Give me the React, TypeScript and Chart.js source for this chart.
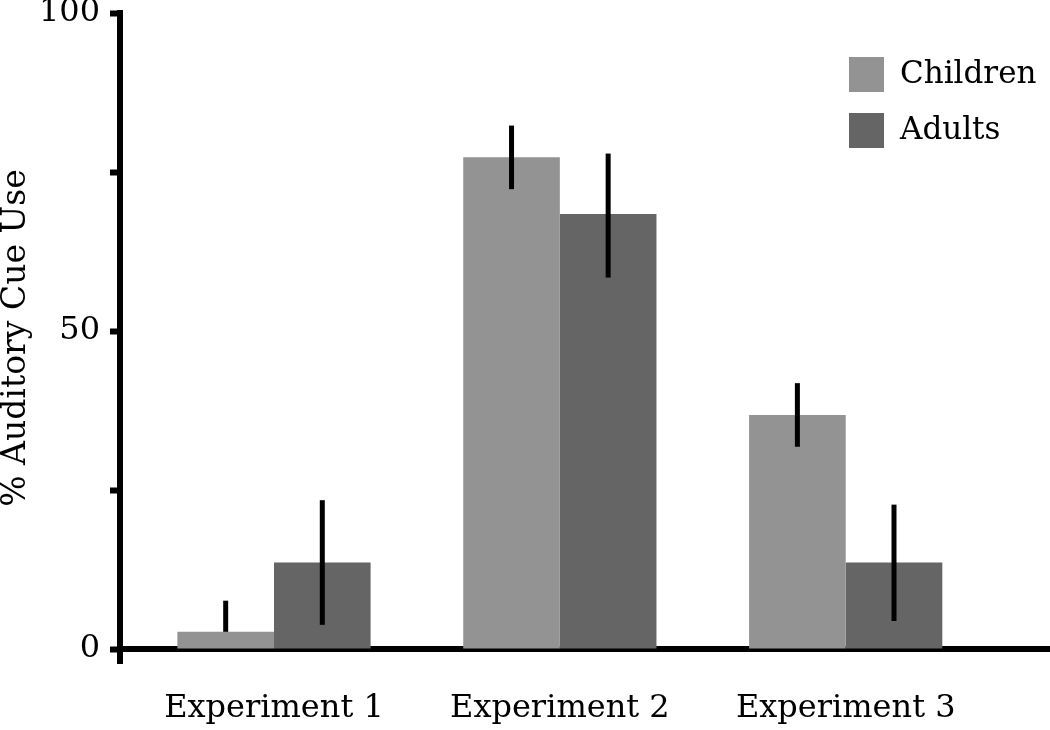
import React, { useEffect, useRef } from "react";
import { Chart, registerables } from "chart.js";

Chart.register(...registerables);

const categories = ["Experiment 1", "Experiment 2", "Experiment 3"];
const seriesNames = ["Children", "Adults"];
const childrenValues = [2.7, 77.3, 36.8];
const adultsValues = [13.6, 68.4, 13.6];
const childrenErrLow = [2.7, 72.3, 31.8];
const childrenErrHigh = [7.6, 82.3, 41.8];
const adultsErrLow = [3.8, 58.4, 4.4];
const adultsErrHigh = [23.4, 77.9, 22.7];
const yTicks = [0, 25, 50, 75, 100];
const yTickLabels = ["0", "", "50", "", "100"];

const FONT = "'DejaVu Serif', serif";
const colors = ["#939393", "#656565"];

const errorBarPlugin = {
  id: "errorBars",
  afterDatasetsDraw(chart: any) {
    const ctx = chart.ctx;
    const yScale = chart.scales.y;
    const lows = [childrenErrLow, adultsErrLow];
    const highs = [childrenErrHigh, adultsErrHigh];
    ctx.save();
    ctx.strokeStyle = "#000";
    ctx.lineWidth = 5;
    ctx.lineCap = "butt";
    chart.data.datasets.forEach((_: any, d: number) => {
      const meta = chart.getDatasetMeta(d);
      meta.data.forEach((bar: any, i: number) => {
        const y1 = yScale.getPixelForValue(lows[d][i]);
        const y2 = yScale.getPixelForValue(highs[d][i]);
        ctx.beginPath();
        ctx.moveTo(bar.x, y1);
        ctx.lineTo(bar.x, y2);
        ctx.stroke();
      });
    });
    ctx.restore();
  },
};

const legendPlugin = {
  id: "customLegend",
  afterDraw(chart: any) {
    const ctx = chart.ctx;
    const area = chart.chartArea;
    const boxX = area.right - 201;
    const boxSize = 35;
    ctx.save();
    ctx.font = `31px ${FONT}`;
    ctx.textBaseline = "middle";
    ctx.textAlign = "left";
    chart.data.datasets.forEach((ds: any, i: number) => {
      const top = area.top + 44 + i * 56;
      ctx.fillStyle = ds.backgroundColor;
      ctx.fillRect(boxX, top, boxSize, boxSize);
      ctx.fillStyle = "#000";
      ctx.fillText(ds.label, boxX + 51, top + boxSize / 2);
    });
    ctx.restore();
  },
};

export default function App() {
  const canvasRef = useRef<HTMLCanvasElement | null>(null);

  useEffect(() => {
    if (!canvasRef.current) return;
    const chart = new Chart(canvasRef.current, {
      type: "bar",
      data: {
        datasets: [
          {
            label: seriesNames[0],
            data: childrenValues.map((v, i) => ({ x: i + 1, y: v })),
            backgroundColor: colors[0],
            borderWidth: 0,
          },
          {
            label: seriesNames[1],
            data: adultsValues.map((v, i) => ({ x: i + 1, y: v })),
            backgroundColor: colors[1],
            borderWidth: 0,
          },
        ],
      },
      options: {
        animation: false,
        responsive: true,
        maintainAspectRatio: false,
        layout: { padding: { top: 13, left: 0, right: 0, bottom: 67 } },
        datasets: { bar: { categoryPercentage: 0.676, barPercentage: 1 } },
        plugins: {
          legend: { display: false },
          tooltip: { enabled: false },
        },
        scales: {
          x: {
            type: "linear",
            position: { y: 0 } as any,
            min: 0.4613,
            max: 3.7147,
            offset: false,
            afterBuildTicks: (scale: any) => {
              scale.ticks = categories.map((_, i) => ({ value: i + 1 }));
            },
            afterFit: (scale: any) => {
              scale.height = 0;
              scale.paddingLeft = 0;
              scale.paddingRight = 0;
            },
            grid: { drawOnChartArea: false, drawTicks: false, lineWidth: 0 },
            border: { display: true, width: 6, color: "#000" },
            ticks: {
              padding: 40,
              color: "#000",
              maxRotation: 0,
              autoSkip: false,
              font: { family: FONT, size: 32 },
              callback: (v: any) => categories[Math.round(Number(v)) - 1] ?? "",
            },
          },
          y: {
            type: "linear",
            position: "left",
            min: -2.2,
            max: 100,
            afterBuildTicks: (scale: any) => {
              scale.ticks = yTicks.map((v) => ({ value: v }));
            },
            afterFit: (scale: any) => {
              scale.width = 120;
              scale.paddingTop = 0;
              scale.paddingBottom = 0;
            },
            grid: {
              drawOnChartArea: false,
              drawTicks: true,
              tickLength: 10,
              tickWidth: 6,
              tickColor: "#000",
            },
            border: { display: true, width: 6, color: "#000" },
            ticks: {
              padding: 10,
              color: "#000",
              autoSkip: false,
              font: { family: FONT, size: 32 },
              callback: (v: any) => {
                const idx = yTicks.indexOf(Number(v));
                return idx >= 0 ? yTickLabels[idx] : "";
              },
            },
            title: {
              display: true,
              text: "% Auditory Cue Use",
              color: "#000",
              font: { family: FONT, size: 33, lineHeight: 1 },
              padding: 0,
            },
          },
        },
      },
      plugins: [errorBarPlugin, legendPlugin],
    });
    return () => chart.destroy();
  }, []);

  return (
    <div style={{ position: "fixed", left: 0, top: 0, width: 1050, height: 730, background: "#fff" }}>
      <canvas ref={canvasRef} />
    </div>
  );
}
